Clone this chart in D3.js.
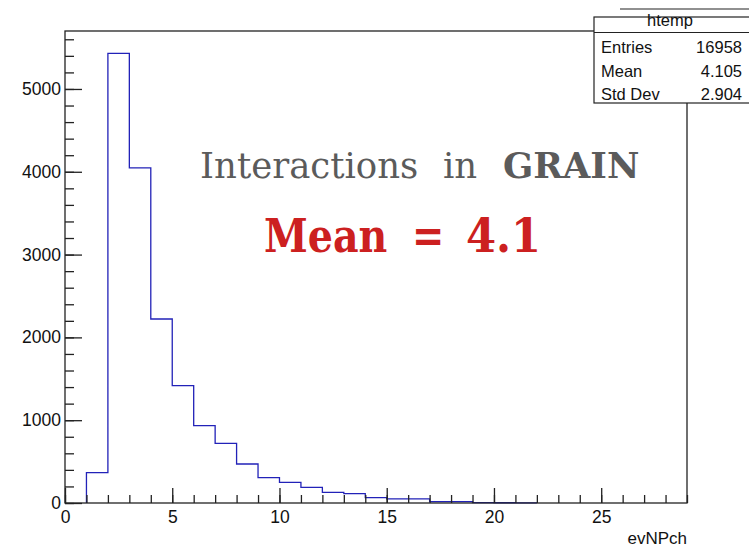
<!DOCTYPE html>
<html>
<head>
<meta charset="utf-8">
<script src="https://cdn.jsdelivr.net/npm/d3@7"></script>
<style>
  html, body { margin: 0; padding: 0; background: #fff; }
  svg { display: block; }
  text { font-family: "Liberation Sans", Arial, sans-serif; }
</style>
</head>
<body>
<script>
// Histogram of evNPch: one bin per integer value, lower edges below
const binLow = [1, 2, 3, 4, 5, 6, 7, 8, 9, 10, 11, 12, 13, 14, 15, 16, 17, 18, 19, 20, 21];
const binCounts = [366, 5431, 4046, 2222, 1417, 934, 721, 471, 306, 250, 189, 129, 113, 66, 50, 50, 17, 17, 4, 3, 2];

// Axis ticks
const xMajorTicks = [0, 5, 10, 15, 20, 25];
const yMajorTicks = [0, 1000, 2000, 3000, 4000, 5000];

// Stats box rows
const statLabels = ["Entries", "Mean", "Std Dev"];
const statValues = ["16958", "4.105", "2.904"];

const W = 749, H = 548;
const frame = { left: 65, right: 687, top: 31, bottom: 503 };

const svg = d3.select("body").append("svg")
  .attr("width", W).attr("height", H);

svg.append("rect").attr("width", W).attr("height", H).attr("fill", "#fff");

const x = d3.scaleLinear().domain([0, 29]).range([frame.left, frame.right]);
const y = d3.scaleLinear().domain([0, 5700]).range([frame.bottom, frame.top]);

// Histogram outline
const pts = [[binLow[0], 0]];
binLow.forEach((lo, i) => {
  pts.push([lo, binCounts[i]]);
  pts.push([lo + 1, binCounts[i]]);
});
pts.push([binLow[binLow.length - 1] + 1, 0]);

const line = d3.line().x(d => x(d[0])).y(d => y(d[1]));
svg.append("path")
  .attr("d", line(pts))
  .attr("fill", "none")
  .attr("stroke", "#2222b8")
  .attr("stroke-width", 1.3);

// Frame
svg.append("rect")
  .attr("x", frame.left).attr("y", frame.top)
  .attr("width", frame.right - frame.left)
  .attr("height", frame.bottom - frame.top)
  .attr("fill", "none")
  .attr("stroke", "#222")
  .attr("stroke-width", 1.3);

function styleAxis(g) {
  g.select(".domain").remove();
  g.selectAll(".tick line").attr("stroke", "#222").attr("stroke-width", 1.3);
  g.selectAll(".tick text")
    .attr("fill", "#111")
    .style("font-family", "'Liberation Sans', Arial, sans-serif")
    .style("font-size", "17.5px");
}

// X axis: minor ticks every unit, major every 5
svg.append("g")
  .attr("transform", `translate(0,${frame.bottom})`)
  .call(d3.axisBottom(x).tickValues(d3.range(0, 30, 1)).tickSizeInner(-8).tickSizeOuter(0).tickFormat(""))
  .call(styleAxis);
svg.append("g")
  .attr("transform", `translate(0,${frame.bottom})`)
  .call(d3.axisBottom(x).tickValues(xMajorTicks).tickSizeInner(-15).tickSizeOuter(0).tickPadding(8).tickFormat(d3.format("d")))
  .call(styleAxis);

// Y axis: minor ticks every 200, major every 1000
svg.append("g")
  .attr("transform", `translate(${frame.left},0)`)
  .call(d3.axisLeft(y).tickValues(d3.range(0, 5700, 200)).tickSizeInner(-9).tickSizeOuter(0).tickFormat(""))
  .call(styleAxis);
svg.append("g")
  .attr("transform", `translate(${frame.left},0)`)
  .call(d3.axisLeft(y).tickValues(yMajorTicks).tickSizeInner(-17).tickSizeOuter(0).tickPadding(4).tickFormat(d3.format("d")))
  .call(styleAxis);

// Axis title
svg.append("text")
  .attr("x", frame.right).attr("y", 544)
  .attr("text-anchor", "end")
  .attr("fill", "#111")
  .style("font-size", "17px")
  .text("evNPch");

// Stats box
const box = svg.append("g");
box.append("rect")
  .attr("x", 594).attr("y", 17).attr("width", 170).attr("height", 86)
  .attr("fill", "#fff").attr("stroke", "#222").attr("stroke-width", 1.2);
box.append("line")
  .attr("x1", 620).attr("x2", 760).attr("y1", 9).attr("y2", 9)
  .attr("stroke", "#222").attr("stroke-width", 1.2);
box.append("line")
  .attr("x1", 594).attr("x2", 760).attr("y1", 32.5).attr("y2", 32.5)
  .attr("stroke", "#222").attr("stroke-width", 1.2);
box.append("text")
  .attr("x", 670).attr("y", 26)
  .attr("text-anchor", "middle")
  .attr("fill", "#111")
  .style("font-size", "16.5px")
  .text("htemp");
const rowBase = [52.5, 76.5, 100];
statLabels.forEach((lab, i) => {
  box.append("text").attr("x", 601).attr("y", rowBase[i])
    .attr("fill", "#111").style("font-size", "16.5px").text(lab);
  box.append("text").attr("x", 742).attr("y", rowBase[i])
    .attr("text-anchor", "end")
    .attr("fill", "#111").style("font-size", "16.5px").text(statValues[i]);
});

// Annotations
const serif = "'DejaVu Serif', 'Liberation Serif', serif";
const t1 = svg.append("text").attr("y", 178)
  .attr("fill", "#5b5b5b")
  .style("font-family", serif)
  .style("font-size", "35.5px");
t1.append("tspan").attr("x", 200).text("Interactions");
t1.append("tspan").attr("x", 443).text("in");
t1.append("tspan").attr("x", 503).style("font-weight", "bold").text("GRAIN");

// Bold red mean label, each word narrowed to the compact serif look
const meanWords = [
  { text: "Mean", x: 264, sx: 0.86 },
  { text: "=", x: 412, sx: 0.84 },
  { text: "4.1", x: 466, sx: 0.94 }
];
svg.append("g").selectAll("text")
  .data(meanWords)
  .join("text")
  .attr("transform", d => `translate(${d.x},251.5) scale(${d.sx},1)`)
  .attr("fill", "#cc2020")
  .style("font-family", serif)
  .style("font-weight", "bold")
  .style("font-size", "46px")
  .text(d => d.text);
</script>
</body>
</html>
